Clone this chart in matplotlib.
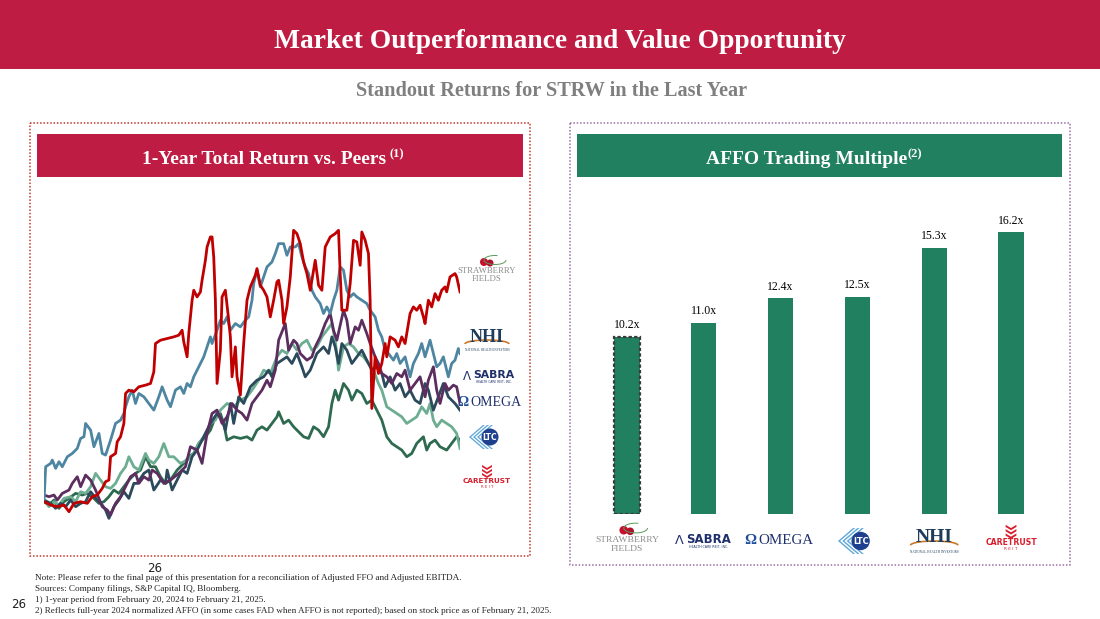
import matplotlib
matplotlib.use("Agg")
import matplotlib.pyplot as plt
from matplotlib.patches import Rectangle, Polygon, Circle, Arc

plt.rcParams['font.family'] = ['Liberation Serif', 'DejaVu Serif']

# ---- 1-year total return (%), by trading day ----
strw_day = [0, 4, 8, 12, 15, 18, 22, 26, 29, 32, 35, 37, 39, 40, 43, 44, 46, 48, 49, 51,
            54, 57, 61, 64, 66, 67, 70, 74, 78, 81, 83, 84, 86, 87, 89, 90, 92, 94, 95, 97,
            98, 100, 101, 102, 103, 104, 106, 107, 109, 111, 112, 113, 115, 116, 118, 120,
            122, 124, 127, 128, 130, 132, 134, 136, 138, 140, 141, 143, 144, 146, 148, 150,
            152, 154, 156, 158, 160, 162, 163, 165, 167, 169, 172, 175, 177, 178, 179, 182,
            184, 186, 188, 190, 191, 193, 195, 196, 197, 199, 201, 203, 205, 206, 208, 211,
            213, 215, 217, 218, 220, 222, 224, 226, 228, 229, 231, 233, 235, 237, 239, 241,
            242, 244, 247, 248, 250]
strw_ret = [0, -1, -1.5, -1, -3, -0.5, 0, -0.5, 1.5, 2, 4, 6, 6.5, 13.5, 14.5, 18, 19.5, 23.5, 32.5, 33.5,
            33, 34.5, 35, 35.5, 39, 47.5, 48.5, 49, 49.5, 50, 51.5, 48, 43.5, 50.5, 60.5, 63.5, 61.5, 63, 66.5, 72.5,
            76.5, 79.5, 79.5, 73.5, 60.5, 35.5, 45.5, 61.5, 63.5, 54.5, 49.5, 37.5, 46.5, 37.5, 32, 47.5,
            60.5, 64.5, 68, 70, 65, 63.5, 61.5, 55.5, 60.5, 66, 66.5, 60.5, 53.5, 58.5, 67.5, 81.5,
            80.5, 77.5, 72, 68.5, 63.5, 69.5, 72.5, 65, 63.5, 76.5, 79.5, 80.5, 81.5, 68.5, 57.5, 57.5,
            65.5, 78.5, 78, 71, 81, 78.5, 74.5, 60.5, 28, 43.5, 38.5, 41.5, 47.5, 43.5, 49.5, 48.5,
            46.5, 49.5, 47.5, 50.5, 56.5, 58.5, 57.5, 59, 55.5, 53.5, 60.5, 58.5, 62.5, 60.5, 63.5, 64.5,
            63, 67.5, 68.5, 67.5, 63]

nhi_day = [0, 1, 4, 5, 7, 9, 11, 14, 17, 20, 22, 24, 25, 28, 30, 33, 35, 37, 40, 43, 46, 48, 49,
           51, 53, 55, 57, 60, 63, 66, 69, 71, 74, 76, 79, 82, 84, 86, 88, 90, 92, 94, 96, 98, 100,
           101, 104, 106, 108, 110, 112, 115, 118, 121, 123, 125, 126, 128, 130, 132, 134, 137, 139,
           141, 144, 146, 148, 151, 153, 155, 157, 159, 161, 163, 166, 168, 170, 172, 174, 176, 178,
           180, 182, 184, 186, 188, 191, 194, 196, 199, 201, 203, 205, 207, 210, 212, 214, 217, 220,
           222, 225, 227, 229, 232, 234, 236, 238, 240, 243, 245, 247, 249, 250]
nhi_ret = [0, 10.5, 11.5, 12.5, 10, 12, 10.5, 13.5, 14.5, 16, 19, 19.5, 23.5, 21.5, 16.5, 20.5, 14.5, 14, 18.5, 23.5, 24.5, 26.5, 28.5,
           31.5, 33.5, 29.5, 32.5, 31.5, 29.5, 27.5, 31.5, 34.5, 30.5, 28.5, 33.5, 34.5, 32.5, 35.5, 34.5, 37.5, 39.5, 41.5, 43.5, 46.5, 49.5,
           47.5, 51.5, 54.5, 53.5, 55.5, 51.5, 53.5, 52.5, 54.5, 55.5, 60.5, 65.5, 69.5, 64.5, 67.5, 70.5, 72, 74.5,
           77.5, 77.5, 74, 76.5, 76.5, 77.5, 73.5, 70.5, 68.5, 63.5, 61.5, 59.5, 56.5, 58.5, 56.5, 60.5, 63.5, 70.5,
           69.5, 63.5, 61.5, 62.5, 61.5, 60.5, 59.5, 57.5, 55.5, 51.5, 49.5, 45.5, 44.5, 42.5, 44.5, 41.5, 43.5, 37.5,
           41.5, 44.5, 47.5, 43.5, 48.5, 44.5, 40.5, 41.5, 43.5, 37.5, 41.5, 42.5, 46, 44.5]

sbra_day = [0, 3, 6, 8, 11, 15, 17, 20, 22, 25, 28, 31, 35, 38, 40, 43, 46, 49, 52, 55, 57, 60, 63,
            65, 68, 72, 76, 81, 85, 88, 92, 95, 98, 101, 104, 107, 110, 113, 116, 119, 122, 125, 128,
            131, 134, 136, 139, 141, 145, 147, 150, 152, 154, 158, 161, 163, 166, 169, 172, 174, 176,
            180, 182, 184, 187, 189, 191, 194, 196, 199, 201, 203, 206, 209, 212, 215, 217, 220, 223,
            226, 229, 231, 234, 236, 238, 241, 243, 246, 248, 250]
sbra_ret = [2, 1.5, 2, 0.5, 2.5, 3.5, 5.5, 7.5, 4.5, 8, 6.5, 3.5, -1.5, -2.5, -4, -0.5, 1.5, 4.5, 7.5, 8.5, 5.5, 7.5, 6.5,
            9.5, 8.5, 5.5, 6.5, 8.5, 10.5, 16.5, 15.5, 11.5, 20.5, 26.5, 27.5, 23.5, 25.5, 29.5, 27.5, 26.5, 24.5, 29.5, 31.5,
            33.5, 36.5, 34.5, 39.5, 48.5, 53.5, 45.5, 48.5, 47.5, 44.5, 42.5, 43.5, 46.5, 49.5, 53.5, 56.5, 51.5, 48.5,
            57.5, 54.5, 47.5, 52.5, 51.5, 54.5, 50.5, 47.5, 43.5, 41.5, 38.5, 37.5, 35.5, 38.5, 37.5, 39.5, 33.5, 35.5,
            37.5, 31.5, 36.5, 40.5, 33.5, 29.5, 35.5, 33.5, 35, 34.5, 29.5]

ohi_day = [0, 4, 7, 10, 13, 16, 19, 22, 25, 28, 32, 35, 37, 39, 42, 45, 48, 51, 54, 56, 60, 63, 66,
           70, 73, 74, 77, 80, 83, 86, 89, 92, 96, 100, 104, 107, 109, 112, 114, 117, 120, 124, 128,
           132, 135, 137, 140, 143, 146, 149, 152, 155, 157, 160, 164, 168, 171, 173, 175, 177, 179,
           182, 185, 188, 191, 194, 197, 200, 203, 205, 208, 211, 214, 217, 220, 223, 226, 229, 231,
           234, 237, 240, 243, 247, 250]
ohi_ret = [0.5, -0.5, -2, -0.5, -1.5, 0.5, -1.5, -0.5, 0, 3, 0.5, -1, -2.5, -5, -1.5, 0.5, 3, 1, 5.5, 5.5, 8.5, 9.5, 3.5,
           6.5, 5.5, 9.5, 3.5, 6.5, 9.5, 8.5, 13.5, 15.5, 19.5, 23.5, 26.5, 24.5, 21.5, 29.5, 23.5, 31.5, 29.5, 34.5, 36.5,
           37.5, 39.5, 37.5, 41.5, 42.5, 43.5, 41.5, 44.5, 40.5, 37.5, 39.5, 44.5, 46.5, 44.5, 49.5, 46.5, 41.5, 47.5,
           45.5, 41.5, 43.5, 45.5, 42.5, 39.5, 40.5, 38.5, 34.5, 37.5, 33.5, 35.5, 31.5, 33.5, 30.5, 29.5, 35.5, 33.5,
           27.5, 31.5, 35.5, 31.5, 29.5, 27.5]

ltc_day = [0, 3, 6, 9, 12, 16, 19, 22, 25, 28, 31, 34, 37, 40, 43, 46, 49, 51, 54, 57, 61, 63, 66,
           69, 72, 75, 78, 82, 86, 90, 93, 96, 100, 103, 106, 110, 114, 118, 122, 125, 129, 132, 136,
           140, 143, 146, 149, 152, 155, 158, 161, 164, 167, 170, 173, 175, 177, 180, 183, 186, 189,
           192, 195, 198, 201, 203, 206, 209, 212, 215, 218, 221, 224, 227, 230, 232, 234, 236, 239,
           242, 245, 248, 250]
ltc_ret = [0.5, -1.5, 0, -1, 1, 1.5, 0, 3, 2.5, 4.5, 8.5, 6.5, 4.5, 4, 5.5, 8.5, 10.5, 13.5, 10.5, 9.5, 14.5, 12.5, 11.5,
           13.5, 17.5, 13.5, 13.5, 11.5, 12.5, 14.5, 17.5, 19.5, 23.5, 24.5, 27.5, 29.5, 28.5, 30.5, 31.5, 33.5, 36.5, 39.5, 38.5,
           43.5, 45.5, 44.5, 47.5, 45.5, 47.5, 48.5, 45.5, 46.5, 49.5, 51.5, 53.5, 48.5, 39.5, 46.5, 47.5, 46.5, 44.5,
           43.5, 41.5, 39.5, 35.5, 33.5, 28.5, 27.5, 26.5, 25.5, 23.5, 24.5, 25.5, 28.5, 26.5, 29.5, 24.5, 22.5, 24.5,
           23.5, 22.5, 20.5, 16]

ctre_day = [0, 3, 6, 9, 12, 15, 19, 23, 26, 30, 33, 36, 39, 42, 45, 48, 51, 55, 58, 61, 64, 67, 70,
            73, 76, 80, 84, 87, 90, 93, 97, 100, 103, 106, 108, 110, 114, 118, 122, 125, 128, 131, 134,
            137, 140, 141, 144, 147, 150, 152, 156, 159, 162, 165, 168, 171, 173, 175, 177, 180, 183,
            185, 188, 191, 194, 197, 200, 203, 206, 209, 212, 215, 218, 221, 224, 228, 230, 232, 235,
            238, 242, 245, 248, 250]
ctre_ret = [0, -1, 0.5, -2, 0, 1, 2.5, 2, 2.5, 1, -0.5, 0, 1.5, 3.5, 2.5, 4.5, 6.5, 8.5, 9.5, 13.5, 10.5, 10.5, 7.5,
            5.5, 6.5, 9.5, 11.5, 13.5, 14.5, 17.5, 19.5, 21.5, 25.5, 26.5, 23.5, 18.5, 19.5, 19, 19.5, 18.5, 21.5, 22.5, 21.5,
            23.5, 25.5, 27, 23.5, 24.5, 22.5, 21.5, 19.5, 19, 22.5, 21.5, 19.5, 22.5, 29.5, 33.5, 30.5, 35.5, 33.5,
            30.5, 33.5, 32.5, 29.5, 30.5, 27.5, 24.5, 19.5, 17.5, 16.5, 15.5, 13.5, 14.5, 17.5, 19.5, 15.5, 17.5, 18.5,
            16.5, 15.5, 17.5, 19.5, 18.5]

# ---- AFFO trading multiple ----
affo_names = ['Strawberry Fields', 'Sabra', 'Omega', 'LTC', 'NHI', 'CareTrust']
affo_multiple = [10.2, 11.0, 12.4, 12.5, 15.3, 16.2]

CRIMSON = '#BE1C42'
GREEN = '#21805F'
NAVY = '#1F2F6B'
GRAY = '#7F7F7F'

fig = plt.figure(figsize=(11, 6.19), dpi=100)
renderer = fig.canvas.get_renderer()

# background canvas in pixel units
bg = fig.add_axes([0, 0, 1, 1])
bg.set_xlim(0, 1100)
bg.set_ylim(619, 0)
bg.axis('off')

bg.add_patch(Rectangle((0, 0), 1100, 69, color=CRIMSON, lw=0))
bg.text(560, 38, 'Market Outperformance and Value Opportunity', color='white',
        fontsize=19.8, fontweight='bold', ha='center', va='center_baseline')
bg.text(552, 89, 'Standout Returns for STRW in the Last Year', color=GRAY,
        fontsize=14.6, fontweight='bold', ha='center', va='center_baseline')

# panel frames
bg.add_patch(Rectangle((30, 123), 500, 433, fill=False, ec='#C0392B', lw=1.1, ls=(0, (1, 1.2))))
bg.add_patch(Rectangle((570, 123), 500, 442, fill=False, ec='#9B6FA6', lw=1.1, ls=(0, (1, 1.2))))
bg.add_patch(Rectangle((37, 134), 486, 43, color=CRIMSON, lw=0))
bg.add_patch(Rectangle((577, 134), 485, 43, color=GREEN, lw=0))


def header(x0, y, main, sup, gap):
    t = bg.text(x0, y, main, color='white', fontsize=14, fontweight='bold', ha='left',
                va='center_baseline')
    bb = t.get_window_extent(renderer)
    bg.text(bb.x1 + gap, y - 5, sup, color='white', fontsize=9, fontweight='bold',
            ha='left', va='center_baseline')


header(142, 158, '1-Year Total Return vs. Peers', '(1)', 3)
header(706, 158, 'AFFO Trading Multiple', '(2)', 0.5)


# ---- simple logo stand-ins ----
def logo_strawberry(ax, x, y, s=1.0):
    ax.add_patch(Circle((x - 3 * s, y - 10 * s), 4 * s, color='#C8102E', lw=0))
    ax.add_patch(Circle((x + 3 * s, y - 9 * s), 3.5 * s, color='#B0102A', lw=0))
    ax.add_patch(Arc((x + 8 * s, y - 12 * s), 22 * s, 9 * s, theta1=0, theta2=300,
                     color='#5A9A5A', lw=0.7))
    ax.text(x, y - 1 * s, 'STRAWBERRY', color='#8C8C8C', fontsize=6.3 * s, ha='center', va='center')
    ax.text(x, y + 7 * s, 'FIELDS', color='#8C8C8C', fontsize=6.3 * s, ha='center', va='center')


def logo_nhi(ax, x, y, s=1.0):
    ax.text(x, y - 3 * s, 'NHI', color='#1D3B5A', fontsize=13 * s, ha='center', va='center',
            fontweight='bold')
    ax.add_patch(Arc((x, y + 4 * s), 44 * s, 8 * s, theta1=180, theta2=360, color='#C8792A', lw=1.2))
    ax.text(x, y + 10 * s, 'NATIONAL HEALTH INVESTORS', color='#1D3B5A', fontsize=2.2 * s,
            ha='center', va='center')


def logo_sabra(ax, x, y, s=1.0):
    ax.text(x - 23 * s, y, '\u039b', color=NAVY, fontsize=8.5 * s, ha='center', va='center',
            family='DejaVu Sans')
    ax.text(x + 4 * s, y - 1 * s, 'SABRA', color=NAVY, fontsize=7.8 * s, ha='center', va='center',
            family='DejaVu Sans', fontweight='bold')
    ax.text(x + 4 * s, y + 6 * s, 'HEALTH CARE REIT, INC.', color=NAVY, fontsize=2.2 * s,
            ha='center', va='center', family='DejaVu Sans')


def logo_omega(ax, x, y, s=1.0):
    ax.text(x - 28 * s, y, '\u03a9', color='#1F4E9A', fontsize=10 * s, ha='center', va='center',
            fontweight='bold')
    ax.text(x + 5 * s, y, 'OMEGA', color=NAVY, fontsize=10 * s, ha='center', va='center')


def logo_ltc(ax, x, y, s=1.0):
    for k in range(3):
        d = 4 * k * s
        ax.add_patch(Polygon([(x - 18 * s + d, y), (x - 4 * s + d, y - 12 * s),
                              (x - 2 * s + d, y - 12 * s), (x - 16 * s + d, y)],
                             closed=True, color='#5FA8D8', lw=0))
        ax.add_patch(Polygon([(x - 18 * s + d, y), (x - 4 * s + d, y + 12 * s),
                              (x - 2 * s + d, y + 12 * s), (x - 16 * s + d, y)],
                             closed=True, color='#5FA8D8', lw=0))
    ax.add_patch(Circle((x + 3 * s, y), 8.5 * s, color='#1F3F8F', lw=0))
    ax.text(x + 3 * s, y, 'LTC', color='white', fontsize=5.5 * s, ha='center', va='center',
            family='DejaVu Sans', fontweight='bold')


def logo_caretrust(ax, x, y, s=1.0):
    for k in range(3):
        yy = y - 15 * s + k * 4 * s
        ax.add_patch(Polygon([(x - 5 * s, yy), (x, yy + 3 * s), (x + 5 * s, yy),
                              (x + 5 * s, yy + 2 * s), (x, yy + 5 * s), (x - 5 * s, yy + 2 * s)],
                             closed=True, color='#D81E2C', lw=0))
    ax.text(x, y + 1 * s, 'CARETRUST', color='#D81E2C', fontsize=5.2 * s, ha='center', va='center',
            family='DejaVu Sans', fontweight='bold')
    ax.text(x, y + 7 * s, 'R E I T', color='#D81E2C', fontsize=2.8 * s, ha='center', va='center',
            family='DejaVu Sans')


# ---- left: total return lines ----
ax1 = fig.add_axes([44 / 1100, 84 / 619, 416 / 1100, 333 / 619])
ax1.plot(ctre_day, ctre_ret, color='#2E6A50', lw=2.0)
ax1.plot(ltc_day, ltc_ret, color='#6DAD92', lw=2.0)
ax1.plot(ohi_day, ohi_ret, color='#2B4A5C', lw=2.0)
ax1.plot(sbra_day, sbra_ret, color='#5C2E60', lw=2.0)
ax1.plot(nhi_day, nhi_ret, color='#4E86A2', lw=2.0)
ax1.plot(strw_day, strw_ret, color='#C00000', lw=2.0)
ax1.set_xlim(0, 250)
ax1.set_ylim(-10, 90)
ax1.axis('off')

logo_strawberry(bg, 487, 272)
logo_nhi(bg, 487, 340)
logo_sabra(bg, 490, 376)
logo_omega(bg, 491, 402)
logo_ltc(bg, 487, 437)
logo_caretrust(bg, 487, 480)

# ---- right: AFFO multiple bars ----
ax2 = fig.add_axes([569.4 / 1100, 105 / 619, 499.2 / 1100, 313.2 / 619])
xs = list(range(len(affo_multiple)))
bars = ax2.bar(xs, affo_multiple, width=0.33, color=GREEN, lw=0)
bars[0].set_edgecolor('#3A3A3A')
bars[0].set_linewidth(1.6)
bars[0].set_linestyle((0, (1.5, 1)))
ax2.bar_label(bars, labels=[f'{v:.1f}x' for v in affo_multiple], padding=4, fontsize=8.5)
ax2.set_xlim(-0.75, 5.75)
ax2.set_ylim(0, 18)
ax2.axis('off')

bar_logos = [logo_strawberry, logo_sabra, logo_omega, logo_ltc, logo_nhi, logo_caretrust]
for xi, fn in zip(xs, bar_logos):
    # place each logo under its bar, in background pixel units
    px = ax2.transData.transform((xi, 0))[0]
    fn(bg, px, 541, 1.08)

# ---- footnotes ----
notes = ['Note: Please refer to the final page of this presentation for a reconciliation of Adjusted FFO and Adjusted EBITDA.',
         'Sources: Company filings, S&P Capital IQ, Bloomberg.',
         '1) 1-year period from February 20, 2024 to February 21, 2025.',
         '2) Reflects full-year 2024 normalized AFFO (in some cases FAD when AFFO is not reported); based on stock price as of February 21, 2025.']
for i, line in enumerate(notes):
    bg.text(35, 577 + i * 10.9, line, fontsize=6.55, ha='left', va='center_baseline', color='#222222')
bg.text(11, 603, '26', fontsize=8.5, ha='left', va='center_baseline', family='DejaVu Sans', color='#222222')
bg.text(147, 567, '26', fontsize=8.5, ha='left', va='center_baseline', family='DejaVu Sans', color='#222222')

fig.savefig('out.png', dpi=100)
